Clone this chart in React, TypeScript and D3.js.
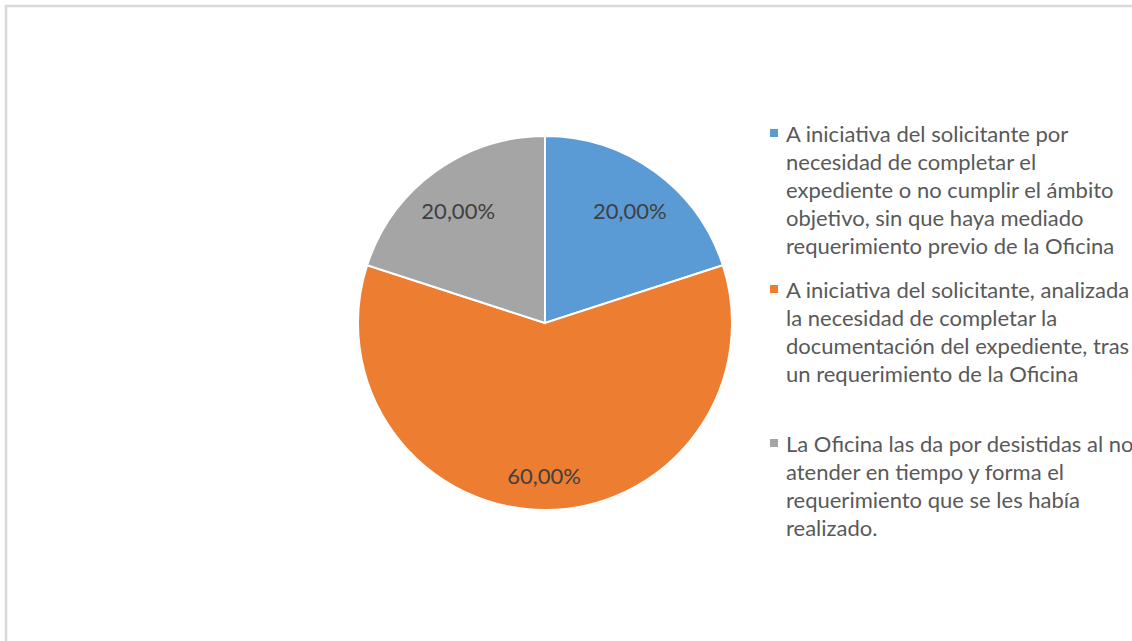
import React, { useEffect, useRef } from 'react';
import * as d3 from 'd3';

const categories = [
	["A iniciativa del solicitante por", "necesidad de completar el", "expediente o no cumplir el ámbito", "objetivo, sin que haya mediado", "requerimiento previo de la Oficina"],
	["A iniciativa del solicitante, analizada", "la necesidad de completar la", "documentación del expediente, tras", "un requerimiento de la Oficina"],
	["La Oficina las da por desistidas al no", "atender en tiempo y forma el", "requerimiento que se les había", "realizado."],
];
const values = [20, 60, 20];
const valueLabels = ["20,00%", "60,00%", "20,00%"];
const colors = ["#5B9BD5", "#ED7D31", "#A5A5A5"];

const App = () => {
	const ref = useRef<SVGSVGElement>(null);
	useEffect(() => drawChart());
	function drawChart() {
		const width = 1132;
		const height = 641;
		const svg = d3.select(ref.current);
		svg.selectAll("*").remove();
		svg.attr("width", width).attr("height", height);
		const font = "Lato, 'Open Sans', sans-serif";

		svg.append("rect")
			.attr("x", 6).attr("y", 6)
			.attr("width", width + 20).attr("height", height + 20)
			.attr("fill", "white")
			.attr("stroke", "#d9d9d9")
			.attr("stroke-width", 2.5);

		const cx = 545, cy = 323, r = 187;
		const pie = d3.pie<number>().sort(null).value((d) => d);
		const arcs = pie(values);
		const arc = d3.arc<d3.PieArcDatum<number>>().innerRadius(0).outerRadius(r);
		const labelArc = d3.arc<d3.PieArcDatum<number>>().innerRadius(146).outerRadius(146);

		const g = svg.append("g").attr("transform", "translate(" + cx + "," + cy + ")");
		g.selectAll("path")
			.data(arcs)
			.enter()
			.append("path")
			.attr("d", arc)
			.attr("fill", (d, i) => colors[i])
			.attr("stroke", "white")
			.attr("stroke-width", 2);
		g.selectAll("text")
			.data(arcs)
			.enter()
			.append("text")
			.text((d, i) => valueLabels[i])
			.attr("x", (d) => labelArc.centroid(d)[0] - 1)
			.attr("y", (d) => labelArc.centroid(d)[1] + 6)
			.attr("text-anchor", "middle")
			.attr("dominant-baseline", "central")
			.attr("font-family", font)
			.attr("font-size", "22px")
			.attr("fill", "#404040");

		// legend
		const itemTops = [133, 289, 443];
		const lineH = 28;
		const legend = svg.append("g");
		categories.forEach((lines, i) => {
			legend.append("rect")
				.attr("x", 770).attr("y", itemTops[i] - 4)
				.attr("width", 8).attr("height", 8)
				.attr("fill", colors[i]);
			lines.forEach((line, j) => {
				legend.append("text")
					.text(line)
					.attr("x", 786)
					.attr("y", itemTops[i] + j * lineH)
					.attr("dominant-baseline", "central")
					.attr("font-family", font)
					.attr("font-size", "22px")
					.attr("fill", "#595959");
			});
		});
	}
	return <svg ref={ref} style={{ position: "absolute", left: 0, top: 0 }}></svg>;
};

export default App;
